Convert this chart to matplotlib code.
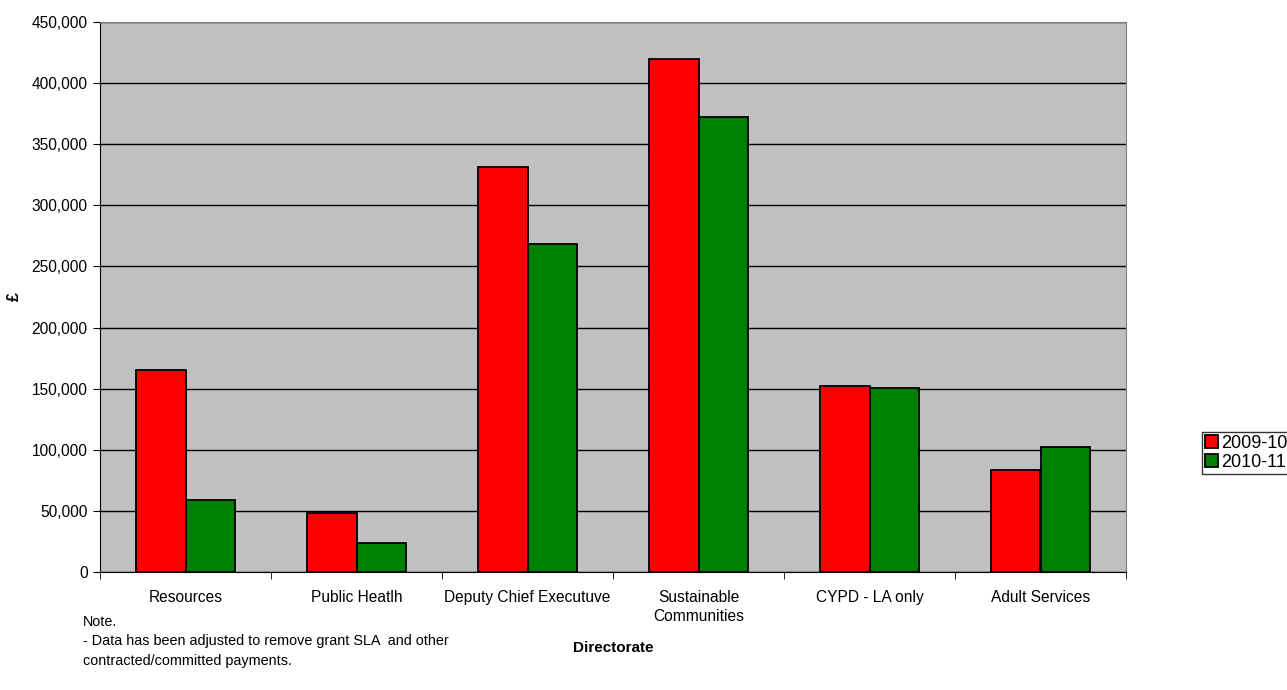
import numpy as np
import matplotlib.pyplot as plt
from matplotlib.ticker import FuncFormatter

plt.rcParams['font.family'] = ['Liberation Sans', 'DejaVu Sans']

categories = ['Resources', 'Public Heatlh', 'Deputy Chief Executuve',
              'Sustainable\nCommunities', 'CYPD - LA only', 'Adult Services']
y2009 = [165300, 48300, 331600, 419700, 152200, 83500]
y2010 = [58900, 23700, 268100, 372300, 150800, 102500]

fig = plt.figure(figsize=(12.87, 6.9), dpi=100)
ax = fig.add_axes([100/1287, 118/690, 1026/1287, 550/690])
ax.set_facecolor('#c0c0c0')

x = np.arange(len(categories))
w = 0.287
ax.bar(x - w/2, y2009, w, color='#ff0000', edgecolor='black', linewidth=1.3, label='2009-10', zorder=3)
ax.bar(x + w/2, y2010, w, color='#008000', edgecolor='black', linewidth=1.3, label='2010-11', zorder=3)

ax.set_xlim(-0.5, len(categories) - 0.5)
ax.set_ylim(0, 450000)
ax.set_yticks(np.arange(0, 450001, 50000))
ax.yaxis.set_major_formatter(FuncFormatter(lambda v, p: f'{int(v):,}'))
ax.yaxis.grid(True, color='black', linewidth=1)
ax.set_axisbelow(True)

ax.set_xticks(x)
ax.set_xticklabels(categories, fontsize=11.2, linespacing=1.35)
ax.set_xticks(np.arange(-0.5, len(categories)), minor=True)
ax.tick_params(axis='x', which='major', length=0, pad=13)
ax.tick_params(axis='x', which='minor', length=5, direction='out')
ax.tick_params(axis='y', labelsize=11.2, length=5, direction='out', pad=4)

for s in ['top', 'right']:
    ax.spines[s].set_color('#808080')
for s in ['left', 'bottom']:
    ax.spines[s].set_color('black')

fig.text(14/1287, 1 - 297/690, '£', fontsize=11.5, fontweight='bold', rotation=90,
         ha='center', va='center')
fig.text(613/1287, 1 - 648/690, 'Directorate', fontsize=11, fontweight='bold', ha='center', va='center')

fig.text(83/1287, 1 - 641/690,
         'Note.\n- Data has been adjusted to remove grant SLA  and other\ncontracted/committed payments.',
         fontsize=10.4, ha='left', va='center', linespacing=1.5)

leg = ax.legend(loc='center left', bbox_to_anchor=(1202/1287, 1 - 453/690), bbox_transform=fig.transFigure,
                fontsize=13, frameon=True, fancybox=False, edgecolor='black', borderpad=0.15,
                handlelength=0.75, handleheight=0.75, handletextpad=0.15, labelspacing=0.12, borderaxespad=0)
leg.get_frame().set_linewidth(1)

fig.savefig('out.png', dpi=100)
